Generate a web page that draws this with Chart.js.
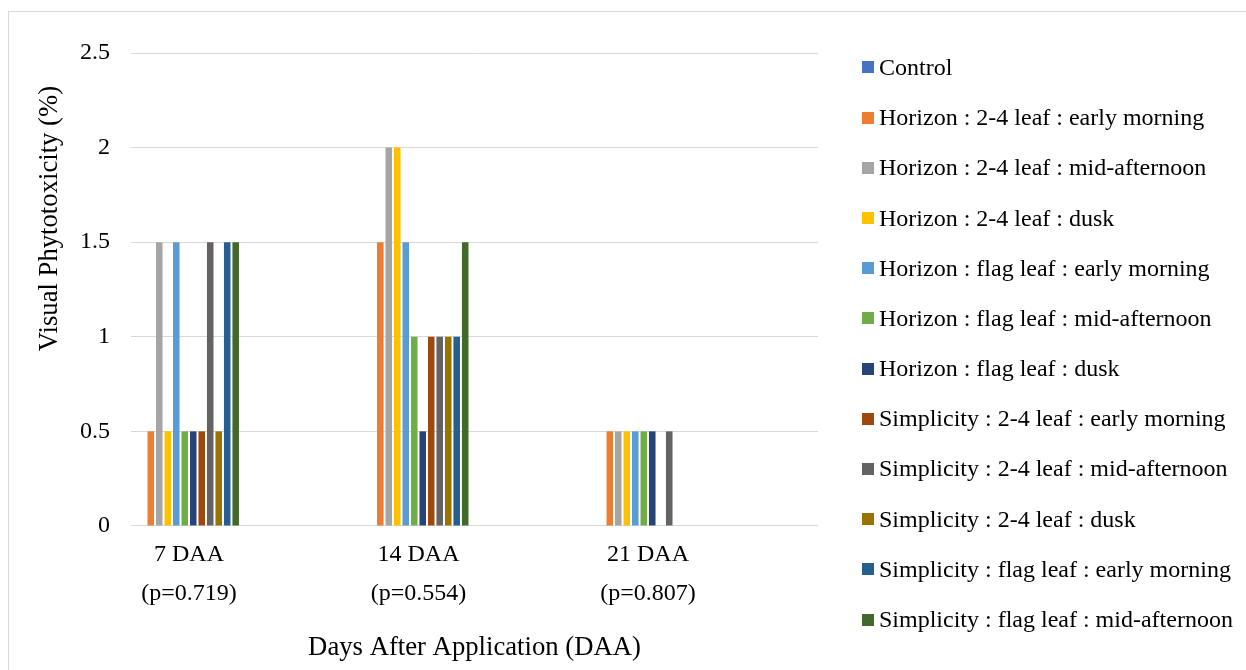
<!DOCTYPE html>
<html>
<head>
<meta charset="utf-8">
<script src="https://cdn.jsdelivr.net/npm/chart.js@4"></script>
<style>
  html, body { margin: 0; padding: 0; background: #fff; }
  #wrap { position: relative; width: 1246px; height: 670px; }
  #legend { position: absolute; left: 862px; top: 42.4px; margin: 0; padding: 0; list-style: none; }
  #legend li { height: 50.2px; display: flex; align-items: center; white-space: nowrap;
               font-family: 'Liberation Serif', 'Times New Roman', serif; font-size: 24px; color: #000; }
  #legend .box { display: inline-block; width: 12px; height: 12px; margin-right: 5px; flex: none; }
</style>
</head>
<body>
<div id="wrap">
  <canvas id="phyto_chart" width="1246" height="670"></canvas>
  <ul id="legend"></ul>
</div>
<script>
var categories = ["7 DAA", "14 DAA", "21 DAA"];
var pValues = ["(p=0.719)", "(p=0.554)", "(p=0.807)"];

var seriesNames = [
    "Control",
    "Horizon : 2-4 leaf : early morning",
    "Horizon : 2-4 leaf : mid-afternoon",
    "Horizon : 2-4 leaf : dusk",
    "Horizon : flag leaf : early morning",
    "Horizon : flag leaf : mid-afternoon",
    "Horizon : flag leaf : dusk",
    "Simplicity : 2-4 leaf : early morning",
    "Simplicity : 2-4 leaf : mid-afternoon",
    "Simplicity : 2-4 leaf : dusk",
    "Simplicity : flag leaf : early morning",
    "Simplicity : flag leaf : mid-afternoon"
];
var seriesColors = [
    "#4472C4", "#ED7D31", "#A5A5A5", "#FFC000", "#5B9BD5", "#70AD47",
    "#264478", "#9E480E", "#636363", "#997300", "#255E91", "#43682B"
];

// values per series, one per category (7, 14, 21 DAA)
var control      = [0, 0, 0];
var hz24Morning  = [0.5, 1.5, 0.5];
var hz24Midday   = [1.5, 2, 0.5];
var hz24Dusk     = [0.5, 2, 0.5];
var hzFlMorning  = [1.5, 1.5, 0.5];
var hzFlMidday   = [0.5, 1, 0.5];
var hzFlDusk     = [0.5, 0.5, 0.5];
var sp24Morning  = [0.5, 1, 0];
var sp24Midday   = [1.5, 1, 0.5];
var sp24Dusk     = [0.5, 1, 0];
var spFlMorning  = [1.5, 1, 0];
var spFlMidday   = [1.5, 1.5, 0];

var yTicks = [0, 0.5, 1, 1.5, 2, 2.5];

var seriesValues = [control, hz24Morning, hz24Midday, hz24Dusk, hzFlMorning, hzFlMidday,
    hzFlDusk, sp24Morning, sp24Midday, sp24Dusk, spFlMorning, spFlMidday];

var serif = "'Liberation Serif', 'Times New Roman', serif";

var datasets = seriesNames.map(function(name, i) {
    return {
        label: name,
        data: seriesValues[i].map(function(v, j) { return {x: j, y: v}; }),
        backgroundColor: seriesColors[i],
        borderWidth: 0,
        categoryPercentage: 0.444,
        barPercentage: 0.77
    };
});

// light frame around the chart (only top/left visible in the crop)
var framePlugin = {
    id: "frame",
    beforeDraw: function(chart) {
        var c = chart.ctx;
        c.save();
        c.strokeStyle = "#d9d9d9";
        c.lineWidth = 1;
        c.strokeRect(8.5, 11.5, chart.width + 50, chart.height + 50);
        c.restore();
    }
};

// y axis title sits higher than the plot centre, as in the original
var yTitlePlugin = {
    id: "yTitle",
    afterDraw: function(chart) {
        var c = chart.ctx;
        var area = chart.chartArea;
        c.save();
        c.translate(50, area.top + (area.bottom - area.top) * 0.35);
        c.rotate(-Math.PI / 2);
        c.font = "26.7px " + serif;
        c.fillStyle = "#000";
        c.textAlign = "center";
        c.textBaseline = "middle";
        c.fillText("Visual Phytotoxicity (%)", 0, 0);
        c.restore();
    }
};

// legend as html list next to the canvas
var htmlLegendPlugin = {
    id: "htmlLegend",
    afterUpdate: function(chart) {
        var ul = document.getElementById("legend");
        ul.innerHTML = "";
        chart.data.datasets.forEach(function(ds) {
            var li = document.createElement("li");
            var box = document.createElement("span");
            box.className = "box";
            box.style.background = ds.backgroundColor;
            li.appendChild(box);
            li.appendChild(document.createTextNode(ds.label));
            ul.appendChild(li);
        });
    }
};

var ctx = document.getElementById("phyto_chart");
var chart = new Chart(ctx, {
    type: "bar",
    data: { datasets: datasets },
    plugins: [framePlugin, yTitlePlugin, htmlLegendPlugin],
    options: {
        responsive: false,
        animation: false,
        layout: {
            padding: { top: 53, left: 59, right: 428, bottom: 0 }
        },
        scales: {
            x: {
                type: "linear",
                offset: false,
                min: -0.2527,
                max: 2.7407,
                afterBuildTicks: function(scale) {
                    scale.ticks = categories.map(function(c, i) { return {value: i}; });
                },
                grid: { display: false, drawTicks: false, offset: false },
                border: { display: false },
                ticks: {
                    padding: 9,
                    color: "#000",
                    font: { family: serif, size: 24, lineHeight: 1.625 },
                    callback: function(value) {
                        return [categories[value], pValues[value]];
                    }
                },
                title: {
                    display: true,
                    text: "Days After Application (DAA)",
                    color: "#000",
                    font: { family: serif, size: 26.7 },
                    padding: { top: 10, bottom: 6 }
                }
            },
            y: {
                min: yTicks[0],
                max: yTicks[yTicks.length - 1],
                afterBuildTicks: function(scale) {
                    scale.ticks = yTicks.map(function(v) { return {value: v}; });
                },
                grid: { color: "#d9d9d9", lineWidth: 1, drawTicks: false },
                border: { display: false },
                ticks: {
                    padding: 21,
                    color: "#000",
                    font: { family: serif, size: 24 },
                    callback: function(value) { return String(value); }
                }
            }
        },
        plugins: {
            legend: { display: false },
            tooltip: { enabled: false }
        }
    }
});
</script>
</body>
</html>
